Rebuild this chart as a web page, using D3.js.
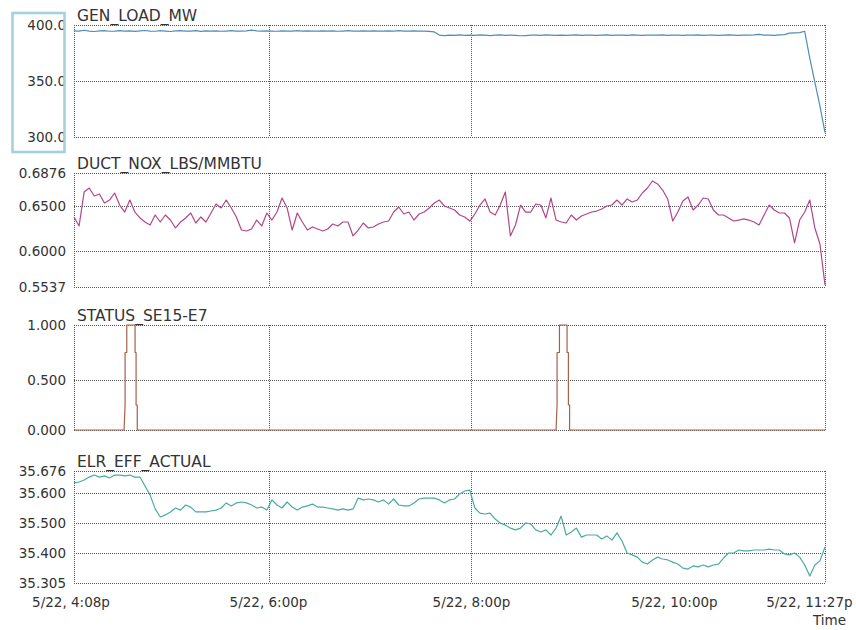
<!DOCTYPE html>
<html>
<head>
<meta charset="utf-8">
<script src="https://cdn.jsdelivr.net/npm/d3@7"></script>
<style>
  html, body { margin: 0; padding: 0; background: #fff; }
  svg { display: block; }
  text { font-family: "DejaVu Sans", sans-serif; fill: #333; }
</style>
</head>
<body>
<svg id="chart" width="856" height="630"></svg>
<script>
// ---------- DATA ----------
// samples every 3 minutes from 4:05p to 11:29p
const sampleStepMin = 3;
const sampleCount = 149;

const genLoadMW = [
  394.8,394.6,395.3,394.5,394.2,394.7,394.9,394.4,394.6,395.0,394.5,394.7,
  394.3,394.8,395.1,394.6,394.4,394.9,394.6,394.2,394.7,395.0,394.6,394.5,
  394.9,394.3,394.7,394.6,394.8,394.4,394.6,394.9,394.6,394.5,394.7,395.4,
  394.8,394.5,394.7,394.6,394.4,394.8,394.6,394.6,394.9,394.5,394.7,394.6,
  394.5,394.8,394.6,394.7,394.4,394.6,394.9,394.6,394.5,394.7,394.6,394.8,
  394.6,394.5,394.7,394.6,394.9,394.6,394.5,394.7,394.6,394.6,394.3,393.8,
  391.0,390.6,390.9,390.7,391.2,390.8,391.0,390.7,391.1,390.9,390.6,390.9,
  391.1,390.8,391.0,390.7,390.4,390.6,390.9,391.0,390.8,391.1,390.9,390.8,
  391.0,390.7,390.9,391.2,390.8,391.0,390.9,390.7,391.0,391.1,390.8,390.9,
  391.0,390.8,391.1,390.9,390.8,391.0,391.0,390.9,391.1,390.8,391.0,390.9,
  390.8,391.0,390.9,391.1,390.8,391.0,390.9,390.8,391.0,391.1,390.9,390.8,
  391.0,390.9,391.1,391.6,390.9,391.0,390.8,391.2,391.4,392.8,393.0,393.2,
  394.4,370.5,349.0,327.7,304.0
];

const ductNox = [
  .6378,.6278,.6660,.6705,.6614,.6637,.6534,.6568,.6648,.6511,
  .6433,.6568,.6433,.6367,.6322,.6289,.6400,.6322,.6400,.6344,
  .6256,.6322,.6367,.6422,.6311,.6378,.6322,.6422,.6523,.6478,
  .6568,.6478,.6378,.6233,.6222,.6244,.6344,.6278,.6422,.6344,
  .6433,.6591,.6478,.6233,.6422,.6322,.6233,.6267,.6244,.6222,
  .6244,.6300,.6278,.6322,.6322,.6167,.6233,.6311,.6256,.6267,
  .6300,.6322,.6333,.6433,.6489,.6411,.6433,.6344,.6411,.6433,
  .6478,.6534,.6568,.6500,.6478,.6456,.6400,.6378,.6333,.6411,
  .6511,.6580,.6433,.6400,.6511,.6660,.6167,.6289,.6511,.6433,
  .6433,.6523,.6511,.6367,.6591,.6344,.6322,.6311,.6400,.6344,
  .6389,.6411,.6433,.6444,.6467,.6500,.6511,.6568,.6511,.6580,
  .6546,.6568,.6648,.6705,.6785,.6751,.6682,.6580,.6333,.6433,
  .6557,.6603,.6456,.6511,.6591,.6580,.6456,.6400,.6400,.6367,
  .6333,.6344,.6356,.6344,.6322,.6289,.6400,.6511,.6456,.6422,
  .6422,.6367,.6089,.6344,.6433,.6568,.6256,.6078,.5563
];

const boilerEff = [
  35.635,35.638,35.645,35.655,35.662,35.655,35.659,35.652,35.662,35.662,
  35.659,35.662,35.655,35.655,35.624,35.593,35.547,35.520,35.527,35.537,
  35.550,35.543,35.560,35.553,35.537,35.537,35.537,35.540,35.543,35.550,
  35.567,35.557,35.567,35.570,35.567,35.560,35.550,35.553,35.543,35.577,
  35.560,35.550,35.570,35.553,35.543,35.553,35.557,35.563,35.553,35.553,
  35.550,35.547,35.543,35.547,35.543,35.547,35.583,35.577,35.580,35.577,
  35.570,35.577,35.563,35.580,35.560,35.557,35.557,35.567,35.580,35.583,
  35.583,35.583,35.577,35.567,35.577,35.580,35.597,35.607,35.610,35.550,
  35.533,35.530,35.533,35.513,35.500,35.493,35.483,35.477,35.483,35.500,
  35.497,35.477,35.470,35.477,35.460,35.483,35.523,35.460,35.470,35.483,
  35.453,35.460,35.460,35.460,35.447,35.457,35.443,35.467,35.440,35.400,
  35.394,35.387,35.371,35.365,35.378,35.387,35.381,35.378,35.371,35.365,
  35.352,35.349,35.359,35.356,35.362,35.356,35.362,35.365,35.384,35.400,
  35.400,35.410,35.407,35.407,35.410,35.410,35.410,35.413,35.410,35.410,
  35.397,35.394,35.400,35.387,35.362,35.327,35.362,35.375,35.420
];

// status: minutes after 4:05p and value at that instant
const statusMinutes = [0, 29.6, 30.2, 30.2, 31.2, 31.2, 36.1, 36.1, 36.7, 36.7, 37.4, 37.4,
  285.0, 285.6, 285.6, 287.0, 287.0, 291.5, 291.5, 292.3, 292.3, 293.0, 293.0, 444];
const statusValues  = [0, 0, 0.25, 0.75, 0.75, 1, 1, 0.75, 0.75, 0.25, 0.25, 0,
  0, 0.25, 0.75, 0.75, 1, 1, 0.75, 0.75, 0.25, 0.25, 0, 0];

const panelTitles = ["GEN_LOAD_MW", "DUCT_NOX_LBS/MMBTU", "STATUS_SE15-E7", "ELR_EFF_ACTUAL"];
const genTicks = [400, 350, 300];
const genTickLabels = ["400.0", "350.0", "300.0"];
const noxTicks = [0.6876, 0.65, 0.6, 0.5537];
const noxTickLabels = ["0.6876", "0.6500", "0.6000", "0.5537"];
const statusTicks = [1, 0.5, 0];
const statusTickLabels = ["1.000", "0.500", "0.000"];
const effTicks = [35.676, 35.6, 35.5, 35.4, 35.305];
const effTickLabels = ["35.676", "35.600", "35.500", "35.400", "35.305"];

const timeTickStrings = ["16:08", "18:00", "20:00", "22:00", "23:27"];
const timeTickLabels = ["5/22, 4:08p", "5/22, 6:00p", "5/22, 8:00p", "5/22, 10:00p", "5/22, 11:27p"];
const gridTimeStrings = ["18:00", "20:00"];

// ---------- LAYOUT ----------
const svg = d3.select("#chart");
const plotLeft = 74, plotRight = 825;
const parseT = d3.timeParse("%Y-%m-%d %H:%M");
const t0 = parseT("2024-05-22 16:05");
const t1 = parseT("2024-05-22 23:29");
const x = d3.scaleTime().domain([t0, t1]).range([plotLeft, plotRight]);

const sampleTimes = d3.range(sampleCount).map(i => d3.timeMinute.offset(t0, i * sampleStepMin));
const statusTimes = statusMinutes.map(m => new Date(t0.getTime() + m * 60000));

const panels = [
  { title: panelTitles[0], color: "#4f8db5",
    y: d3.scaleLinear().domain([300, 400]).range([137, 25]),
    ticks: genTicks, labels: genTickLabels, times: sampleTimes, values: genLoadMW },
  { title: panelTitles[1], color: "#b2468a",
    y: d3.scaleLinear().domain([0.5537, 0.6, 0.65, 0.6876]).range([287, 251, 206, 173]),
    ticks: noxTicks, labels: noxTickLabels, times: sampleTimes, values: ductNox },
  { title: panelTitles[2], color: "#a5624c",
    y: d3.scaleLinear().domain([0, 0.5, 1]).range([430, 380, 325]),
    ticks: statusTicks, labels: statusTickLabels, times: statusTimes, values: statusValues },
  { title: panelTitles[3], color: "#4aaba0",
    y: d3.scaleLinear().domain([35.305, 35.4, 35.5, 35.6, 35.676]).range([583, 553, 523, 493, 471]),
    ticks: effTicks, labels: effTickLabels, times: sampleTimes, values: boilerEff }
];

const crisp = v => Math.round(v) + 0.5;
const gridColor = "#555";

panels.forEach((p, pi) => {
  const g = svg.append("g");
  const [yBot, yTop] = [p.y(p.y.domain()[0]), p.y(p.y.domain()[p.y.domain().length - 1])];

  // horizontal grid lines
  g.selectAll(".hg").data(p.ticks).enter().append("line")
    .attr("x1", plotLeft).attr("x2", plotRight)
    .attr("y1", d => crisp(p.y(d))).attr("y2", d => crisp(p.y(d)))
    .attr("stroke", gridColor).attr("stroke-width", 1)
    .attr("stroke-dasharray", "1,1");

  // vertical grid lines (borders + time grid)
  const vx = [plotLeft, ...gridTimeStrings.map(s => x(parseT("2024-05-22 " + s))), plotRight];
  g.selectAll(".vg").data(vx).enter().append("line")
    .attr("x1", d => crisp(d)).attr("x2", d => crisp(d))
    .attr("y1", yTop).attr("y2", yBot)
    .attr("stroke", gridColor).attr("stroke-width", 1)
    .attr("stroke-dasharray", "1,1");

  // tick labels
  g.selectAll(".tl").data(p.ticks).enter().append("text")
    .attr("x", 66).attr("y", d => p.y(d))
    .attr("dy", "0.36em")
    .attr("text-anchor", "end")
    .style("font-size", "13.5px")
    .text((d, i) => p.labels[i]);

  // title
  g.append("text")
    .attr("x", 77).attr("y", yTop - 4)
    .style("font-size", "15.5px")
    .text(p.title);

  // series line
  const line = d3.line().x((d, i) => x(p.times[i])).y(d => p.y(d));
  g.append("path")
    .datum(p.values)
    .attr("d", line)
    .attr("fill", "none")
    .attr("stroke", p.color)
    .attr("stroke-width", 1.2)
    .attr("stroke-linejoin", "round");
});

// highlight box around the first panel's axis
svg.append("rect")
  .attr("x", 12.5).attr("y", 13).attr("width", 52).attr("height", 139)
  .attr("fill", "none").attr("stroke", "#a6d0e0").attr("stroke-width", 2.6);

// time axis labels
const timeTicks = timeTickStrings.map(s => parseT("2024-05-22 " + s));
svg.selectAll(".xl").data(timeTicks).enter().append("text")
  .attr("x", (d, i) => {
    if (i === 0) return x.range()[0] - 3;
    if (i === timeTicks.length - 1) return x(d) + 31;
    return x(d);
  })
  .attr("y", 607)
  .attr("text-anchor", (d, i) => i === timeTicks.length - 1 ? "end" : "middle")
  .style("font-size", "13.5px")
  .text((d, i) => timeTickLabels[i]);

svg.append("text")
  .attr("x", 846).attr("y", 625)
  .attr("text-anchor", "end")
  .style("font-size", "13.5px")
  .text("Time");
</script>
</body>
</html>
